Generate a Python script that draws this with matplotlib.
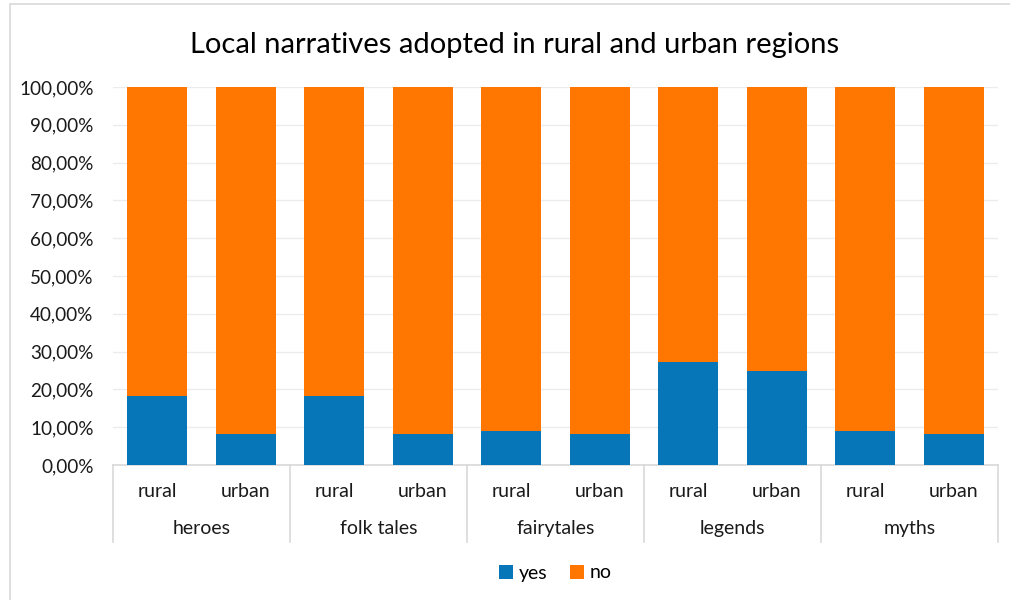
import matplotlib
matplotlib.use("Agg")
import matplotlib.pyplot as plt
from matplotlib.patches import Rectangle
from matplotlib.ticker import FuncFormatter
import matplotlib.transforms as mtransforms

plt.rcParams["font.family"] = ["Lato", "DejaVu Sans"]

grupos = ["heroes", "folk tales", "fairytales", "legends", "myths"]
regiones = ["rural", "urban"]
si_rural = [18.18, 18.18, 9.09, 27.27, 9.09]
si_urbano = [8.33, 8.33, 8.33, 25.00, 8.33]

AZUL = "#0676b9"
NARANJA = "#ff7700"
GRIS = "#d9d9d9"
TEXTO = "#1a1a1a"

si = []
etiquetas = []
for r, u in zip(si_rural, si_urbano):
    si += [r, u]
    etiquetas += regiones
no = [100 - v for v in si]
xs = [i + 0.5 for i in range(len(si))]

fig = plt.figure(figsize=(10.1, 6.0), dpi=100)
ax = fig.add_axes([113 / 1010, 1 - 465 / 600, 885 / 1010, 378 / 600])

ax.bar(xs, si, width=0.68, color=AZUL, label="yes", zorder=3)
ax.bar(xs, no, width=0.68, bottom=si, color=NARANJA, label="no", zorder=3)

ax.set_xlim(0, len(si))
ax.set_ylim(0, 100)
ax.set_yticks(range(0, 101, 10))
ax.yaxis.set_major_formatter(FuncFormatter(lambda v, p: f"{v:.2f}%".replace(".", ",")))
ax.tick_params(axis="y", length=0, pad=14, labelsize=13.6, colors=TEXTO)
ax.set_xticks([])
ax.grid(axis="y", color="#ececec", linewidth=1, zorder=0)
for lado in ["top", "right", "left"]:
    ax.spines[lado].set_visible(False)
ax.spines["bottom"].set_color(GRIS)
ax.spines["bottom"].set_linewidth(1.2)

# eje de categorias en dos niveles
trans = mtransforms.blended_transform_factory(ax.transData, ax.transAxes)
for x, et in zip(xs, etiquetas):
    ax.text(x, -0.071, et, transform=trans, ha="center", va="center",
            fontsize=14, color=TEXTO)
for g, nombre in enumerate(grupos):
    ax.text(2 * g + 1, -0.169, nombre, transform=trans, ha="center", va="center",
            fontsize=14, color=TEXTO)
for g in range(len(grupos) + 1):
    ax.plot([2 * g, 2 * g], [0, -0.204], transform=trans, color=GRIS,
            linewidth=1.2, clip_on=False)

fig.suptitle("Local narratives adopted in rural and urban regions",
             x=515 / 1010, y=1 - 45 / 600, va="center", fontsize=21, color="#000000")

ax.legend(loc="center", bbox_to_anchor=(0.5, (465 - 573) / 378), frameon=False,
          ncol=2, fontsize=14, handlelength=0.7, handleheight=0.7,
          handletextpad=0.3, columnspacing=1.2)

# marco del grafico
fig.patches.append(Rectangle((10 / 1010, -0.05), 1.1, 1 - 4 / 600 + 0.05,
                             transform=fig.transFigure, fill=False,
                             edgecolor="#d9d9d9", linewidth=1.2))

fig.savefig("out.png", dpi=100)
